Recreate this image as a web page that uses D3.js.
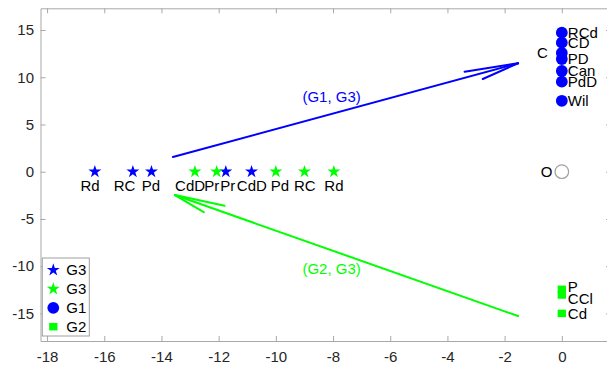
<!DOCTYPE html>
<html>
<head>
<meta charset="utf-8">
<script src="https://cdn.jsdelivr.net/npm/d3@7/dist/d3.min.js"></script>
<style>
  body { margin: 0; background: #fff; }
  svg text { font-family: Arial, "Liberation Sans", Helvetica, sans-serif; }
  .axis path, .axis line { stroke: #a8a8a8; stroke-width: 1; }
  .axis text { fill: #262626; font-size: 15px; }
  .label { fill: #000; font-size: 15px; }
</style>
</head>
<body>
<div id="chart"></div>
<script>
// Blue stars (G3) on the y = 0 line
var blueStarNames = ["Rd", "RC", "Pd", "Pr", "CdD"];
var blueStarX = [-16.33, -15.0, -14.35, -11.75, -10.85];
var blueStarLabelX = [-16.5, -15.29, -14.37, -11.68, -10.84];

// Green stars (G3) on the y = 0 line
var greenStarNames = ["CdD", "Pr", "Pd", "RC", "Rd"];
var greenStarX = [-12.83, -12.07, -10.0, -9.0, -7.97];
var greenStarLabelX = [-13.0, -12.24, -9.86, -8.99, -7.97];
var starLabelY = -1.5;

// Blue circles (G1) at x = 0
var circleNames = ["RCd", "CD", "C", "PD", "Can", "PdD", "Wil"];
var circleY = [14.72, 13.66, 12.57, 11.93, 10.66, 9.53, 7.51];

// Green squares (G2) at x = 0
var squareNames = ["P", "CCl", "Cd"];
var squareY = [-12.45, -13.05, -15.0];
var squareLabelY = [-12.2, -13.4, -15.0];

// Origin
var originName = "O";

// Arrows: tail -> tip, with labels
var arrowFrom = [[-13.6, 1.55], [-1.53, -15.28]];
var arrowTo = [[-1.53, 11.48], [-13.53, -2.47]];
var arrowNames = ["(G1, G3)", "(G2, G3)"];
var arrowLabelAt = [[-8.05, 7.95], [-8.05, -10.25]];

// Axis ticks
var xTicks = [-18, -16, -14, -12, -10, -8, -6, -4, -2, 0];
var yTicks = [-15, -10, -5, 0, 5, 10, 15];

var legendNames = ["G3", "G3", "G1", "G2"];

var BLUE = "#0000ff";
var GREEN = "#00ff00";

var width = 607;
var height = 368;
var plot = { left: 40.5, right: 611, top: 8.3, bottom: 341 };

var svg = d3
  .select("#chart")
  .append("svg")
  .attr("width", width)
  .attr("height", height);

svg.append("rect").attr("width", width).attr("height", height).attr("fill", "#fff");

var xScale = d3.scaleLinear().domain([-18.23, 1.72]).range([plot.left, plot.right]);
var yScale = d3.scaleLinear().domain([-17.92, 17.3]).range([plot.bottom, plot.top]);

// Star path (pentagram), centred on 0,0
var starPath = function(R) {
  var r = R * 0.382;
  var pts = [];
  for (var i = 0; i < 10; i++) {
    var a = -Math.PI / 2 + (i * Math.PI) / 5;
    var rad = i % 2 === 0 ? R : r;
    pts.push([rad * Math.cos(a), rad * Math.sin(a)]);
  }
  return "M" + pts.map(p => p[0].toFixed(2) + "," + p[1].toFixed(2)).join("L") + "Z";
};

// Axes (MATLAB-like box, ticks inside)
var fmt = d => String(d);

svg.append("g")
  .attr("class", "axis")
  .attr("transform", "translate(0," + plot.bottom + ")")
  .call(d3.axisBottom(xScale).tickValues(xTicks).tickFormat(fmt).tickSize(-5).tickSizeOuter(0).tickPadding(10));

svg.append("g")
  .attr("class", "axis")
  .attr("transform", "translate(" + plot.left + ",0)")
  .call(d3.axisLeft(yScale).tickValues(yTicks).tickFormat(fmt).tickSize(-5).tickSizeOuter(0).tickPadding(6.5));

svg.append("g")
  .attr("class", "axis")
  .attr("transform", "translate(0," + plot.top + ")")
  .call(d3.axisTop(xScale).tickValues(xTicks).tickFormat("").tickSize(-5).tickSizeOuter(0));

svg.append("g")
  .attr("class", "axis")
  .attr("transform", "translate(" + plot.right + ",0)")
  .call(d3.axisRight(yScale).tickValues(yTicks).tickFormat("").tickSize(-5).tickSizeOuter(0));

svg.selectAll(".axis text").attr("font-family", "Arial, 'Liberation Sans', sans-serif");

// Arrows
var arrowColors = [BLUE, GREEN];
var arrowG = svg.append("g").attr("class", "arrows");
var barbAngle = (14 * Math.PI) / 180;
var barbLen = 2.07;

arrowFrom.forEach(function(from, i) {
  var to = arrowTo[i];
  var back = Math.atan2(from[1] - to[1], from[0] - to[0]);
  var barbs = [back + barbAngle, back - barbAngle].map(function(a) {
    return [to[0] + barbLen * Math.cos(a), to[1] + barbLen * Math.sin(a)];
  });
  var segs = [[from, to], [to, barbs[0]], [to, barbs[1]]];
  arrowG.selectAll(null)
    .data(segs)
    .enter()
    .append("line")
    .attr("x1", d => xScale(d[0][0]))
    .attr("y1", d => yScale(d[0][1]))
    .attr("x2", d => xScale(d[1][0]))
    .attr("y2", d => yScale(d[1][1]))
    .attr("stroke", arrowColors[i])
    .attr("stroke-width", 2)
    .attr("stroke-linecap", "round");

  arrowG.append("text")
    .attr("class", "label")
    .attr("x", xScale(arrowLabelAt[i][0]))
    .attr("y", yScale(arrowLabelAt[i][1]))
    .attr("dy", "0.35em")
    .attr("text-anchor", "middle")
    .attr("fill", arrowColors[i])
    .style("fill", arrowColors[i])
    .text(arrowNames[i]);
});

// Stars
var drawStars = function(xs, names, labelXs, color) {
  var g = svg.append("g");
  g.selectAll("path")
    .data(xs)
    .enter()
    .append("path")
    .attr("d", starPath(6.8))
    .attr("transform", d => "translate(" + xScale(d) + "," + yScale(0) + ")")
    .attr("fill", color);
  g.selectAll("text")
    .data(names)
    .enter()
    .append("text")
    .attr("class", "label")
    .attr("x", (d, i) => xScale(labelXs[i]))
    .attr("y", yScale(starLabelY))
    .attr("dy", "0.35em")
    .attr("text-anchor", "middle")
    .text(d => d);
};
drawStars(blueStarX, blueStarNames, blueStarLabelX, BLUE);
drawStars(greenStarX, greenStarNames, greenStarLabelX, GREEN);

// Circles
var circleG = svg.append("g");
circleG.selectAll("circle")
  .data(circleY)
  .enter()
  .append("circle")
  .attr("cx", xScale(0))
  .attr("cy", d => yScale(d))
  .attr("r", 5.9)
  .attr("fill", BLUE);
circleG.selectAll("text")
  .data(circleNames)
  .enter()
  .append("text")
  .attr("class", "label")
  .attr("x", d => (d === "C" ? xScale(0) - 14 : xScale(0) + 6))
  .attr("y", (d, i) => yScale(circleY[i]))
  .attr("dy", "0.35em")
  .attr("text-anchor", d => (d === "C" ? "end" : "start"))
  .text(d => d);

// Squares
var squareG = svg.append("g");
squareG.selectAll("rect")
  .data(squareY)
  .enter()
  .append("rect")
  .attr("x", xScale(0) - 4.15)
  .attr("y", d => yScale(d) - 3.75)
  .attr("width", 8.3)
  .attr("height", 7.5)
  .attr("fill", GREEN);
squareG.selectAll("text")
  .data(squareNames)
  .enter()
  .append("text")
  .attr("class", "label")
  .attr("x", xScale(0) + 6)
  .attr("y", (d, i) => yScale(squareLabelY[i]))
  .attr("dy", "0.35em")
  .text(d => d);

// Origin
svg.append("circle")
  .attr("cx", xScale(0))
  .attr("cy", yScale(0))
  .attr("r", 6.8)
  .attr("fill", "#fff")
  .attr("stroke", "#a0a0a0")
  .attr("stroke-width", 1.2);
svg.append("text")
  .attr("class", "label")
  .attr("x", xScale(0) - 9.3)
  .attr("y", yScale(0))
  .attr("dy", "0.35em")
  .attr("text-anchor", "end")
  .text(originName);

// Legend
var legend = svg.append("g").attr("transform", "translate(42.3,258)");
legend.append("rect")
  .attr("width", 47)
  .attr("height", 78)
  .attr("fill", "#fff")
  .attr("stroke", "#a0a0a0")
  .attr("stroke-width", 1);

var legendRows = legend.selectAll("g.row")
  .data(legendNames)
  .enter()
  .append("g")
  .attr("class", "row")
  .attr("transform", (d, i) => "translate(0," + (12 + i * 18.9) + ")");

legendRows.each(function(d, i) {
  var row = d3.select(this);
  if (i < 2) {
    row.append("path").attr("d", starPath(6.8)).attr("transform", "translate(11,0)").attr("fill", i === 0 ? BLUE : GREEN);
  } else if (i === 2) {
    row.append("circle").attr("cx", 11).attr("r", 5.9).attr("fill", BLUE);
  } else {
    row.append("rect").attr("x", 6.85).attr("y", -3.75).attr("width", 8.3).attr("height", 7.5).attr("fill", GREEN);
  }
  row.append("text")
    .attr("class", "label")
    .attr("x", 24)
    .attr("dy", "0.35em")
    .text(d);
});
</script>
</body>
</html>
